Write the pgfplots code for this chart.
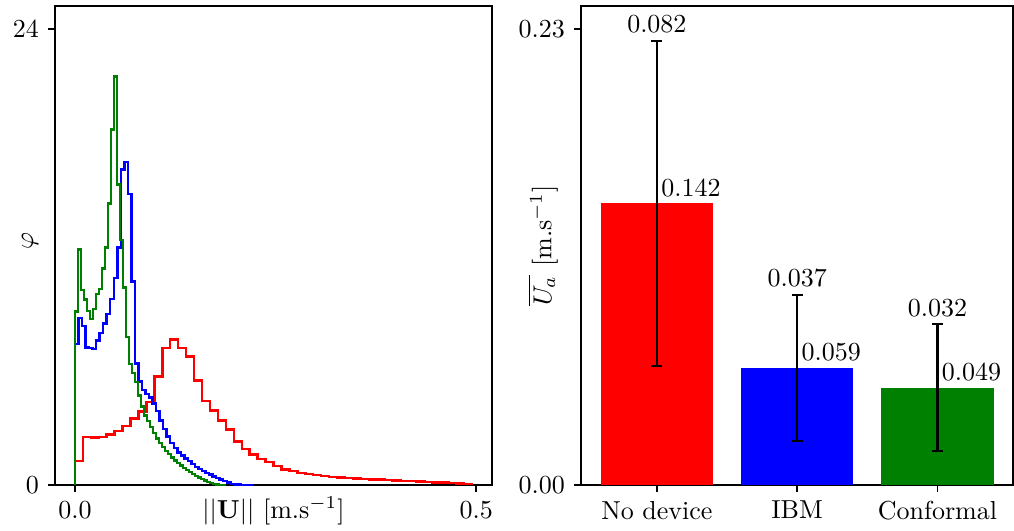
\documentclass[border=0pt]{standalone}
\usepackage{amsmath}
\usepackage{pgfplots}
\usepackage{pgfplotstable}
\pgfplotsset{compat=1.18}
\definecolor{mplgreen}{RGB}{0,128,0}

\pgfplotstableread{
x y err
0 0.142 0.082
1 0.059 0.037
2 0.049 0.032
}\bardata

\begin{document}
\begin{tikzpicture}
\pgfplotsset{
  myaxis/.style={
    scale only axis, anchor=south west,
    tick pos=left, tick align=outside, major tick length=2.7pt,
    axis line style={line width=0.75pt, black},
    every tick/.style={black, line width=0.75pt},
    clip=false,
  }
}
\begin{axis}[myaxis,
  at={(21.15pt,17.31pt)}, width=168.1pt, height=184.2pt,
  xmin=-0.0248, xmax=0.5198, ymin=0, ymax=25.2,
  xtick={0,0.5}, xticklabels={0.0,0.5},
  ytick={0,24}, yticklabels={0,24},
  xlabel={$||\mathbf{U}||$ [m.s$^{-1}$]},
  xlabel style={at={(axis description cs:0.5,0)}, anchor=north, yshift=-1.1pt},
  ylabel={$\varphi$},
  ylabel style={at={(axis description cs:-0.057,0.51)}, anchor=center},
]
\addplot[const plot, red, line width=0.95pt, mark=none] coordinates {
(0,0) (0,1.27) (0.0099,2.54) (0.0198,2.50) (0.0297,2.54) (0.0396,2.65) (0.0495,2.84) (0.0594,3.10) (0.0693,3.49) (0.0792,3.88) (0.0891,4.38) (0.099,5.70) (0.1089,7.20) (0.1188,7.66) (0.1287,7.20) (0.1386,6.75) (0.1485,5.50) (0.1584,4.41) (0.1683,3.93) (0.1782,3.40) (0.1881,2.92) (0.198,2.30) (0.2079,1.90) (0.2178,1.60) (0.2277,1.38) (0.2376,1.20) (0.2475,0.99) (0.2574,0.82) (0.2673,0.75) (0.2772,0.64) (0.2871,0.58) (0.297,0.52) (0.3069,0.47) (0.3168,0.43) (0.3267,0.40) (0.3366,0.37) (0.3465,0.34) (0.3564,0.32) (0.3663,0.30) (0.3762,0.28) (0.3861,0.26) (0.396,0.24) (0.4059,0.22) (0.4158,0.20) (0.4257,0.18) (0.4356,0.16) (0.4455,0.14) (0.4554,0.12) (0.4653,0.10) (0.4752,0.08) (0.4851,0.06) (0.495,0.06) (0.495,0)
};
\addplot[const plot, blue, line width=0.95pt, mark=none] coordinates {
(0,0) (0,7.42) (0.0044,8.78) (0.0088,8.38) (0.0132,7.24) (0.0176,7.20) (0.022,7.16) (0.0264,7.60) (0.0308,8.00) (0.0352,8.50) (0.0396,9.00) (0.044,9.80) (0.0484,10.90) (0.0528,12.50) (0.0572,16.60) (0.0616,17.00) (0.066,15.30) (0.0704,10.70) (0.0748,6.40) (0.0792,5.45) (0.0836,5.00) (0.088,4.80) (0.0924,4.60) (0.0968,4.30) (0.1012,3.90) (0.1056,3.40) (0.11,2.95) (0.1144,2.55) (0.1188,2.20) (0.1232,1.95) (0.1276,1.72) (0.132,1.55) (0.1364,1.40) (0.1408,1.25) (0.1452,1.10) (0.1496,0.96) (0.154,0.85) (0.1584,0.75) (0.1628,0.64) (0.1672,0.55) (0.1716,0.46) (0.176,0.38) (0.1804,0.30) (0.1848,0.21) (0.1892,0.12) (0.1936,0.04) (0.198,0.02) (0.2024,0.02) (0.2068,0.01) (0.2112,0.01) (0.2156,0.01) (0.22,0.01) (0.22,0)
};
\addplot[const plot, mplgreen, line width=0.95pt, mark=none] coordinates {
(0,0) (0,9.13) (0.00374,12.4) (0.00749,10.25) (0.01123,9.77) (0.01497,9.16) (0.01872,8.73) (0.02246,9.25) (0.0262,10.04) (0.02994,10.3) (0.03369,11.4) (0.03743,12.5) (0.04117,14.8) (0.04492,18.7) (0.04866,21.5) (0.0524,15.8) (0.05615,12.9) (0.05989,10.4) (0.06363,7.8) (0.06737,6.37) (0.07112,5.88) (0.07486,5.41) (0.0786,4.71) (0.08235,4.14) (0.08609,3.66) (0.08983,3.37) (0.09358,3.06) (0.09732,2.74) (0.10106,2.45) (0.1048,2.22) (0.10855,2.0) (0.11229,1.8) (0.11603,1.62) (0.11978,1.46) (0.12352,1.3) (0.12726,1.15) (0.13101,1.02) (0.13475,0.9) (0.13849,0.78) (0.14223,0.68) (0.14598,0.58) (0.14972,0.48) (0.15346,0.4) (0.15721,0.32) (0.16095,0.24) (0.16469,0.17) (0.16844,0.1) (0.17218,0.05) (0.17592,0.02) (0.17966,0.01) (0.18341,0.01) (0.18715,0.01) (0.18715,0)
};
\end{axis}

\begin{axis}[myaxis,
  at={(223.5pt,17.31pt)}, width=166.2pt, height=184.2pt,
  xmin=-0.54, xmax=2.54, ymin=0, ymax=0.2415,
  xtick={0,1,2}, xticklabels={No device,IBM,Conformal},
  ytick={0,0.23}, yticklabels={0.00,0.23},
  ylabel={$\overline{U_a}$ [m.s$^{-1}$]},
  ylabel style={at={(axis description cs:-0.088,0.5)}, anchor=center},
  bar width=0.8,
]
\pgfplotsset{
  errstyle/.style={error bars/.cd, y dir=both, y explicit,
    error bar style={line width=0.8pt, black},
    error mark options={rotate=90, mark size=2.1pt, line width=0.8pt, black}},
  vallabel/.style={nodes near coords={\pgfmathprintnumber[fixed,fixed zerofill,precision=3]{\pgfplotspointmeta}},
    point meta=y,
    every node near coord/.style={anchor=south west, inner sep=0pt, xshift=1.5pt, yshift=2.5pt, black}},
}
\addplot[ybar, bar shift=0pt, fill=red, draw=none, vallabel, errstyle] coordinates {(0,0.142) +- (0,0.082)};
\addplot[ybar, bar shift=0pt, fill=blue, draw=none, vallabel, errstyle] coordinates {(1,0.059) +- (0,0.037)};
\addplot[ybar, bar shift=0pt, fill=mplgreen, draw=none, vallabel, errstyle] coordinates {(2,0.049) +- (0,0.032)};
\addplot[only marks, mark=none, point meta=explicit,
  nodes near coords={\pgfmathprintnumber[fixed,fixed zerofill,precision=3]{\pgfplotspointmeta}},
  every node near coord/.style={anchor=south, inner sep=0pt, yshift=2.9pt, black}]
  table[x=x, y expr=\thisrow{y}+\thisrow{err}, meta=err] {\bardata};
\end{axis}
\pgfresetboundingbox
\path[use as bounding box] (0,0) rectangle (390pt,203.85pt);
\end{tikzpicture}
\end{document}
